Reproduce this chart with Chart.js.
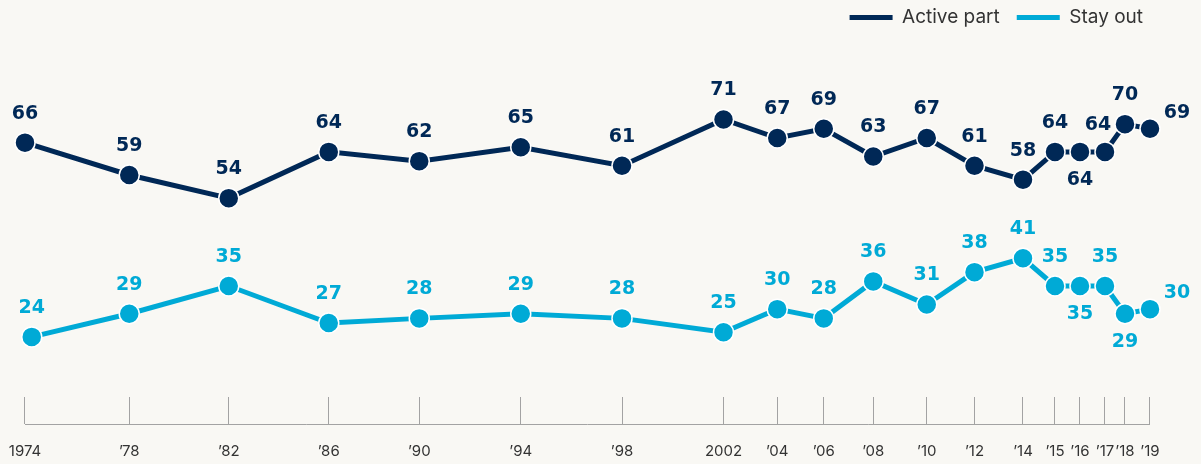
<!DOCTYPE html>
<html>
<head>
<meta charset="utf-8">
<script src="https://cdn.jsdelivr.net/npm/chart.js@4"></script>
<style>
  html, body { margin: 0; padding: 0; background: #f9f8f4; }
  #caixa { width: 1201px; height: 464px; }
</style>
</head>
<body>
<div id="caixa"><canvas id="GraficoParticipacao"></canvas></div>
<script>
// survey dates (fractional years)
var surveyDates = [1974.0, 1978.17, 1982.15, 1986.15, 1989.77, 1993.83, 1997.88, 2001.94, 2004.09, 2005.95,
                   2007.93, 2010.07, 2011.98, 2013.92, 2015.2, 2016.2, 2017.2, 2018.0, 2019.0];
var tickLabels = ['1974', '\u201978', '\u201982', '\u201986', '\u201990', '\u201994', '\u201998', '2002', '\u201904', '\u201906',
                  '\u201908', '\u201910', '\u201912', '\u201914', '\u201915', '\u201916', '\u201917', '\u201918', '\u201919'];
var activePart = [66, 59, 54, 64, 62, 65, 61, 71, 67, 69, 63, 67, 61, 58, 64, 64, 64, 70, 69];
var stayOut = [24, 29, 35, 27, 28, 29, 28, 25, 30, 28, 36, 31, 38, 41, 35, 35, 35, 29, 30];

// first "stay out" survey sits a little later than the first "active part" one
var stayOutDates = surveyDates.slice();
stayOutDates[0] = 1974.27;

var corAtivo = '#002856';
var corFora = '#00aad6';

// where each value label goes (default above the point)
var labelSpots = [
    { 15: 'below', 16: 'aboveLeft', 18: 'right' },
    { 15: 'below', 17: 'below', 18: 'right' }
];
var labelOffsets = {
    above: [0, -29],
    aboveLeft: [-7, -27],
    below: [0, 28],
    right: [27, -16]
};

function pares(datas, valores) {
    return valores.map(function (v, i) { return { x: datas[i], y: v }; });
}

var rotulosValores = {
    id: 'rotulosValores',
    afterDatasetsDraw: function (chart) {
        var ctx = chart.ctx;
        ctx.save();
        ctx.font = 'bold 19px "DejaVu Sans"';
        ctx.textAlign = 'center';
        ctx.textBaseline = 'middle';
        chart.data.datasets.forEach(function (ds, i) {
            ctx.fillStyle = ds.borderColor;
            chart.getDatasetMeta(i).data.forEach(function (pt, j) {
                var off = labelOffsets[labelSpots[i][j] || 'above'];
                ctx.fillText(String(ds.data[j].y), pt.x + off[0], pt.y + off[1]);
            });
        });
        ctx.restore();
    }
};

var linhaBase = {
    id: 'linhaBase',
    afterDraw: function (chart) {
        var x = chart.scales.x;
        var y = x.top + 27 + 0.5;
        var ctx = chart.ctx;
        ctx.save();
        ctx.strokeStyle = '#a3a3a3';
        ctx.lineWidth = 1;
        ctx.beginPath();
        ctx.moveTo(x.getPixelForValue(surveyDates[0]), y);
        ctx.lineTo(x.getPixelForValue(surveyDates[surveyDates.length - 1]), y);
        ctx.stroke();
        ctx.restore();
    }
};

new Chart(document.getElementById('GraficoParticipacao'), {
    type: 'line',
    data: {
        datasets: [{
            label: 'Active part',
            data: pares(surveyDates, activePart),
            borderColor: corAtivo,
            backgroundColor: corAtivo,
            borderWidth: 5,
            pointRadius: 10,
            pointBorderColor: '#ffffff',
            pointBorderWidth: 1.5,
            pointBackgroundColor: corAtivo,
            clip: false
        }, {
            label: 'Stay out',
            data: pares(stayOutDates, stayOut),
            borderColor: corFora,
            backgroundColor: corFora,
            borderWidth: 5,
            pointRadius: 10,
            pointBorderColor: '#ffffff',
            pointBorderWidth: 1.5,
            pointBackgroundColor: corFora,
            clip: false
        }]
    },
    options: {
        responsive: true,
        maintainAspectRatio: false,
        animation: false,
        layout: { autoPadding: false, padding: { top: -9, right: 41, left: 0, bottom: -14 } },
        plugins: {
            tooltip: { enabled: false },
            legend: {
                position: 'top',
                align: 'end',
                labels: {
                    boxWidth: 43,
                    boxHeight: 5,
                    padding: 17,
                    color: '#333333',
                    font: { family: 'Inter', size: 19 },
                    generateLabels: function (chart) {
                        var itens = Chart.defaults.plugins.legend.labels.generateLabels(chart);
                        itens.forEach(function (it) { it.lineWidth = 0; });
                        return itens;
                    }
                }
            }
        },
        scales: {
            x: {
                type: 'linear',
                min: 1973,
                max: 2019.4,
                afterBuildTicks: function (scale) {
                    scale.ticks = surveyDates.map(function (d) { return { value: d }; });
                },
                afterFit: function (scale) {
                    // labels fit inside the margin, no extra side padding needed
                    scale.paddingLeft = 0;
                    scale.paddingRight = 0;
                },
                grid: { drawOnChartArea: false, drawTicks: true, tickLength: 27, color: '#a3a3a3', lineWidth: 1 },
                border: { display: false },
                ticks: {
                    autoSkip: false,
                    maxRotation: 0,
                    padding: 18,
                    color: '#333333',
                    font: { family: 'Inter', size: 15 },
                    callback: function (value, index) { return tickLabels[index]; }
                }
            },
            y: {
                display: false,
                min: 11.0,
                max: 88.84
            }
        }
    },
    plugins: [rotulosValores, linhaBase]
});
</script>
</body>
</html>
